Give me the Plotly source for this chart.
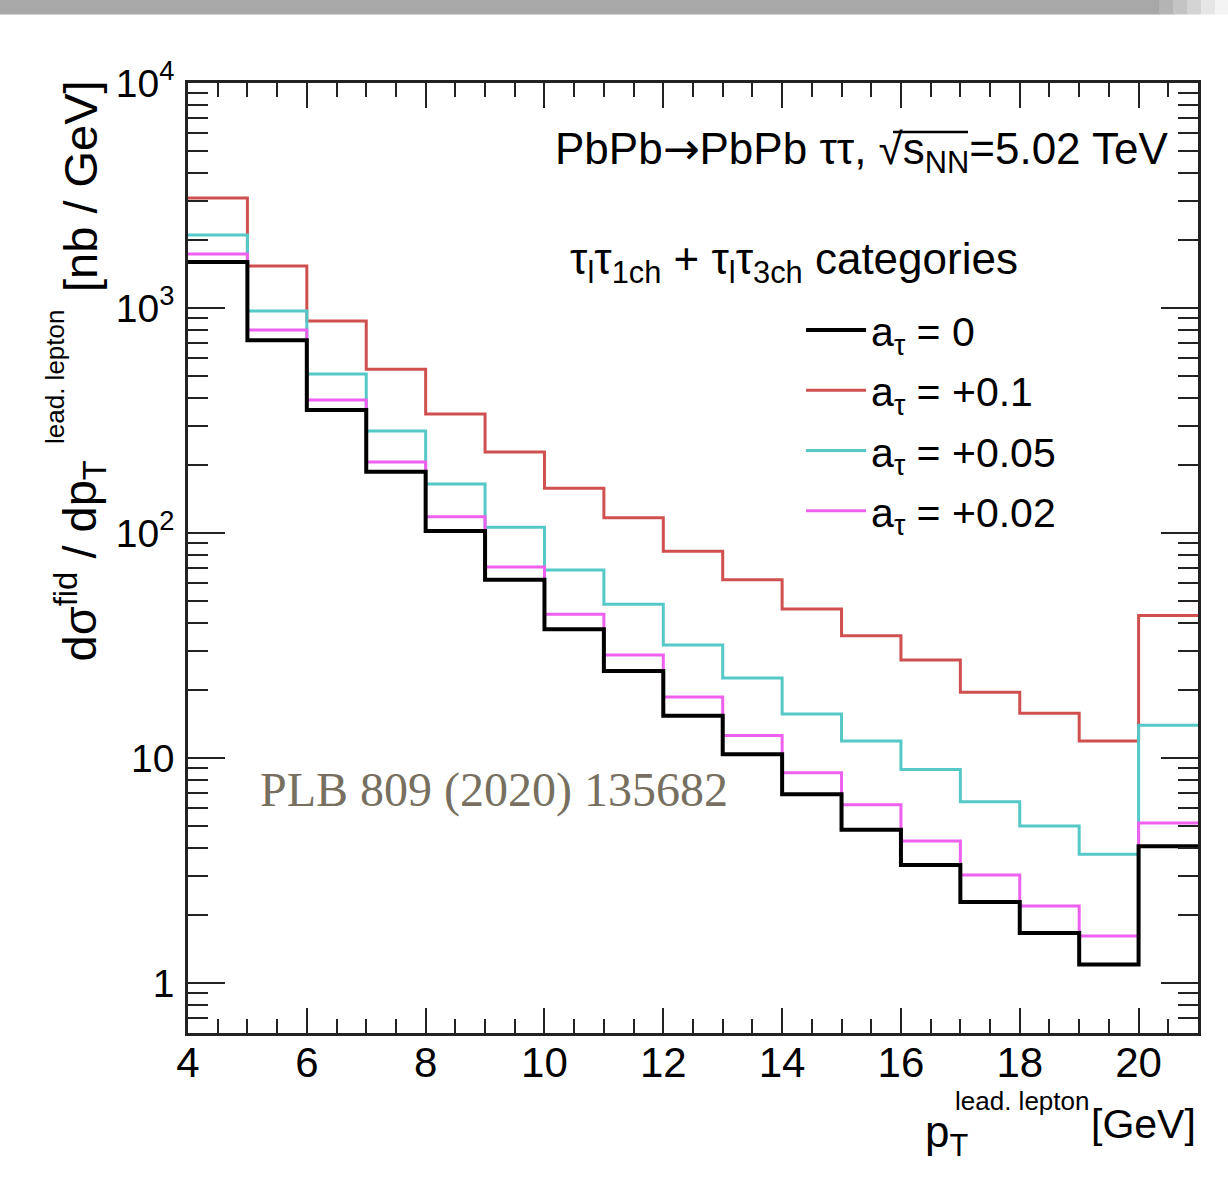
import plotly.graph_objects as go

# ---- data ----
bin_edges = [4, 5, 6, 7, 8, 9, 10, 11, 12, 13, 14, 15, 16, 17, 18, 19, 20, 21]
a0 = [1600, 720, 352, 187, 102, 62, 37.4, 24.4, 15.4, 10.4, 6.9, 4.8, 3.35, 2.29, 1.67, 1.21, 4.06]
a010 = [3080, 1537, 875, 535, 338, 229, 158, 117, 83, 62, 46, 35, 27.3, 19.6, 15.8, 11.9, 43]
a005 = [2110, 970, 509, 284, 165, 106, 68.5, 48.3, 31.8, 22.7, 15.7, 11.9, 8.9, 6.4, 4.99, 3.74, 14]
a002 = [1738, 798, 390, 207, 118, 70.6, 43.6, 28.7, 18.7, 12.6, 8.6, 6.2, 4.28, 3.02, 2.2, 1.62, 5.14]

series_names = ["a<sub>τ</sub> = 0", "a<sub>τ</sub> = +0.1", "a<sub>τ</sub> = +0.05", "a<sub>τ</sub> = +0.02"]
series_vals = [a0, a010, a005, a002]
series_colors = ["#000000", "#d05050", "#55c8c8", "#ee60ee"]
series_widths = [4, 3, 3, 3]

y_tickvals = [1, 10, 100, 1000, 10000]
y_ticktext = ["1", "10", "10<sup>2</sup>", "10<sup>3</sup>", "10<sup>4</sup>"]
x_tickvals = [4, 6, 8, 10, 12, 14, 16, 18, 20]

FONT = "Liberation Sans, Arial, sans-serif"

fig = go.Figure()
order = [1, 2, 3, 0]
for i in order:
    vals = series_vals[i]
    xs = bin_edges[:-1] + [bin_edges[-1]]
    ys = vals + [vals[-1]]
    fig.add_trace(go.Scatter(
        x=xs, y=ys, mode="lines", line=dict(shape="hv", color=series_colors[i], width=series_widths[i]),
        name=series_names[i], legendrank=i + 1, legendgroup=f"g{i}", showlegend=True,
    ))

minor_y = []
for dec in [0.1, 1, 10, 100, 1000]:
    for k in range(2, 10):
        v = k * dec
        if 0.6 <= v <= 10000:
            minor_y.append(v)

fig.update_layout(
    width=1228, height=1182,
    margin=dict(l=188, r=30, t=83, b=149),
    paper_bgcolor="white", plot_bgcolor="white",
    font=dict(family=FONT, size=42, color="black"),
    showlegend=True,
    legend=dict(
        x=0.607, y=0.775, xanchor="left", yanchor="top",
        bgcolor="rgba(0,0,0,0)", borderwidth=0,
        font=dict(family=FONT, size=41, color="black"),
        itemwidth=60, tracegroupgap=4,
    ),
    xaxis=dict(
        range=[4, 21], showgrid=False, zeroline=False,
        showline=True, linecolor="#222", linewidth=2.5, mirror="ticks",
        ticks="inside", ticklen=25, tickwidth=2, tickcolor="#222",
        tickvals=x_tickvals, tickfont=dict(family=FONT, size=42),
        ticklabelstandoff=-9,
        minor=dict(ticks="inside", ticklen=14, tickwidth=2, tickcolor="#222", dtick=0.5, tick0=4, showgrid=False),
    ),
    yaxis=dict(
        type="log", range=[-0.2218, 4.0], showgrid=False, zeroline=False,
        showline=True, linecolor="#222", linewidth=2.5, mirror="ticks",
        ticks="inside", ticklen=37, tickwidth=2, tickcolor="#222",
        tickvals=y_tickvals, ticktext=y_ticktext, tickfont=dict(family=FONT, size=39),
        ticklabelstandoff=3,
        minor=dict(ticks="inside", ticklen=20, tickwidth=2, tickcolor="#222", tickmode="array", tickvals=minor_y, showgrid=False),
    ),
)

def px_x(p):
    return (p - 188) / 1010

def px_y(p):
    return (1033 - p) / 950

# top gray band
fig.add_shape(type="rect", xref="paper", yref="paper",
              x0=px_x(0), x1=px_x(1160), y0=px_y(14.5), y1=px_y(0),
              fillcolor="#a8a8a8", line=dict(width=0), layer="above")
fade = ["#b4b4b4", "#c4c4c4", "#d4d4d4", "#e6e6e6", "#f4f4f4"]
for j, c in enumerate(fade):
    fig.add_shape(type="rect", xref="paper", yref="paper",
                  x0=px_x(1159 + j * 14), x1=px_x(1160 + (j + 1) * 14),
                  y0=px_y(14.5), y1=px_y(0),
                  fillcolor=c, line=dict(width=0), layer="above")

# texts
fig.add_annotation(xref="paper", yref="paper", x=px_x(1170), y=px_y(152),
                   xanchor="right", yanchor="middle", showarrow=False,
                   text="PbPb<span style='font-family:DejaVu Sans'>→</span>PbPb ττ, √s<sub>NN</sub>=5.02 TeV",
                   font=dict(family=FONT, size=44, color="black"))
# overline of the square root
fig.add_shape(type="line", xref="paper", yref="paper",
              x0=px_x(893), x1=px_x(968), y0=px_y(132), y1=px_y(132),
              line=dict(color="black", width=2.5))
fig.add_annotation(xref="paper", yref="paper", x=px_x(568), y=px_y(262),
                   xanchor="left", yanchor="middle", showarrow=False,
                   text="τ<sub>l</sub>τ<sub>1ch</sub> + τ<sub>l</sub>τ<sub>3ch</sub> categories",
                   font=dict(family=FONT, size=44, color="black"))
fig.add_annotation(xref="paper", yref="paper", x=px_x(258), y=px_y(790),
                   xanchor="left", yanchor="middle", showarrow=False,
                   text="PLB 809 (2020) 135682",
                   font=dict(family="Liberation Serif, DejaVu Serif, serif", size=48, color="#777060"))

# y-axis title (rotated), in parts so the superscript sits above the subscript
fig.add_annotation(xref="paper", yref="paper", x=px_x(80), y=px_y(664),
                   xanchor="center", yanchor="bottom", showarrow=False, textangle=-90,
                   text="dσ<sup>fid</sup> / dp<sub>T</sub>",
                   font=dict(family=FONT, size=47, color="black"))
fig.add_annotation(xref="paper", yref="paper", x=px_x(55), y=px_y(446),
                   xanchor="center", yanchor="bottom", showarrow=False, textangle=-90,
                   text="lead. lepton",
                   font=dict(family=FONT, size=26, color="black"))
fig.add_annotation(xref="paper", yref="paper", x=px_x(80), y=px_y(78),
                   xanchor="center", yanchor="top", showarrow=False, textangle=-90,
                   text="[nb / GeV]",
                   font=dict(family=FONT, size=47, color="black"))

# x-axis title in parts
fig.add_annotation(xref="paper", yref="paper", x=px_x(970), y=px_y(1135),
                   xanchor="right", yanchor="middle", showarrow=False,
                   text="p<sub>T</sub>",
                   font=dict(family=FONT, size=44, color="black"))
fig.add_annotation(xref="paper", yref="paper", x=px_x(953), y=px_y(1101),
                   xanchor="left", yanchor="middle", showarrow=False,
                   text="lead. lepton",
                   font=dict(family=FONT, size=26, color="black"))
fig.add_annotation(xref="paper", yref="paper", x=1.0, y=px_y(1124),
                   xanchor="right", yanchor="middle", showarrow=False,
                   text="[GeV]",
                   font=dict(family=FONT, size=41, color="black"))

fig.write_html("out.html")
